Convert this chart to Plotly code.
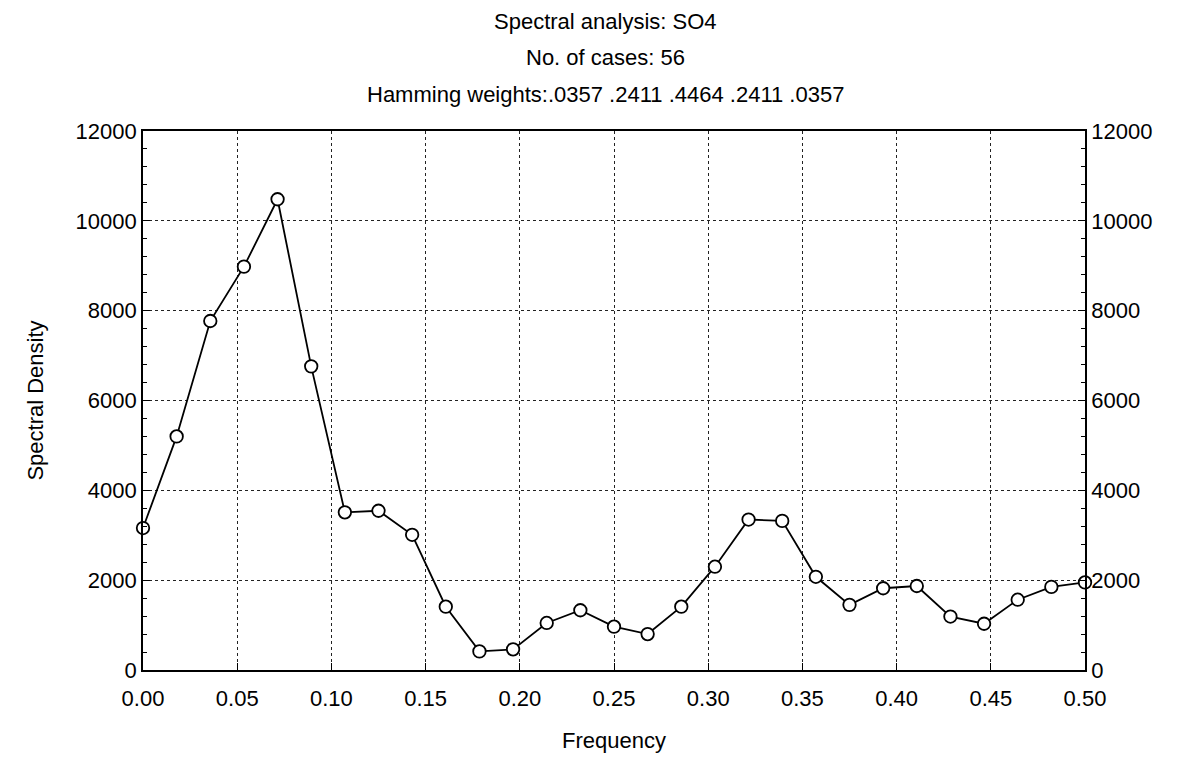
import plotly.graph_objects as go

n_cases = 56
frequency = [k / n_cases for k in range(29)]
spectral_density = [3160, 5200, 7770, 8980, 10480, 6760, 3510, 3545, 3010, 1410,
                    414, 460, 1047, 1330, 965, 800, 1410, 2300, 3350, 3320,
                    2075, 1450, 1820, 1870, 1190, 1030, 1565, 1850, 1950]
x_ticks = [0.00, 0.05, 0.10, 0.15, 0.20, 0.25, 0.30, 0.35, 0.40, 0.45, 0.50]
y_ticks = [0, 2000, 4000, 6000, 8000, 10000, 12000]
title_lines = ["Spectral analysis: SO4", "No. of cases: 56",
               "Hamming weights:.0357 .2411 .4464 .2411 .0357"]

FONT = "Liberation Sans, Arial, sans-serif"
TICK_SIZE = 22
TITLE_SIZE = 22

fig = go.Figure()
fig.add_trace(go.Scatter(
    x=frequency, y=spectral_density, mode="lines+markers",
    line=dict(color="black", width=1.8),
    marker=dict(symbol="circle", size=12.5, color="white",
                line=dict(color="black", width=1.8)),
    cliponaxis=False, showlegend=False))
# invisible trace to activate right axis
fig.add_trace(go.Scatter(x=[frequency[0]], y=[spectral_density[0]], yaxis="y2",
                         mode="markers", marker=dict(opacity=0), showlegend=False,
                         hoverinfo="skip"))

common_y = dict(range=[0, 12000], tickvals=y_ticks, tickformat="d",
                ticks="inside", ticklen=7, tickcolor="black", tickwidth=1.2,
                minor=dict(dtick=400, ticks="inside", ticklen=4, tickcolor="black"),
                showline=True, linecolor="black", linewidth=1.6,
                tickfont=dict(size=TICK_SIZE, color="black", family=FONT),
                zeroline=False)

fig.update_layout(
    width=1184, height=765, autosize=False,
    margin=dict(l=143, r=99, t=131, b=95),
    paper_bgcolor="white", plot_bgcolor="white",
    font=dict(family=FONT, color="black"),
    xaxis=dict(range=[0, 0.5], tickvals=x_ticks, tickformat=".2f",
               ticks="inside", ticklen=7, tickcolor="black",
               showline=True, linecolor="black", linewidth=1.6, mirror=True,
               showgrid=True, gridcolor="#222", griddash="dot", gridwidth=1,
               tickfont=dict(size=TICK_SIZE, color="black", family=FONT), zeroline=False,
               ticklabelstandoff=8,
               title=dict(text="Frequency", font=dict(size=TITLE_SIZE, family=FONT), standoff=22)),
    yaxis=dict(**common_y, showgrid=True, gridcolor="#222", griddash="dot", gridwidth=1,
               title=dict(text="Spectral Density", font=dict(size=TITLE_SIZE, family=FONT), standoff=26)),
    yaxis2=dict(**common_y, overlaying="y", side="right", showgrid=False),
)

title_y_px = [22, 58, 95]
plot_top, plot_h = 131, 765 - 131 - 95
for txt, ypx in zip(title_lines, title_y_px):
    fig.add_annotation(text=txt, xref="paper", yref="paper",
                       x=(605 - 143) / 942, y=1 + (plot_top - ypx) / plot_h,
                       xanchor="center", yanchor="middle", showarrow=False,
                       font=dict(size=TITLE_SIZE, family=FONT, color="black"))

fig.write_html("out.html")
